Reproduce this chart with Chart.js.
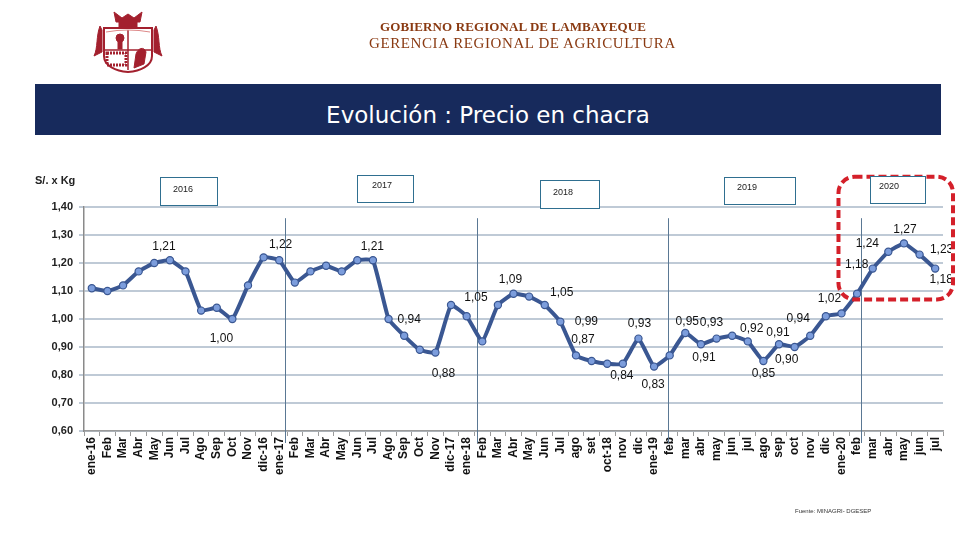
<!DOCTYPE html>
<html><head><meta charset="utf-8">
<script src="https://cdn.jsdelivr.net/npm/chart.js@4.4.1/dist/chart.umd.min.js"></script>
<style>
html,body{margin:0;padding:0;background:#fff;width:960px;height:540px;overflow:hidden;position:relative;font-family:"Liberation Sans",Arial,sans-serif}
#c{position:absolute;left:0;top:0}
.h1{position:absolute;left:380px;top:19px;font:bold 13px "Liberation Serif",serif;color:#8a3a12;letter-spacing:0.1px;white-space:nowrap}
.h2{position:absolute;left:369px;top:35px;font:15px "Liberation Serif",serif;color:#8a3a12;letter-spacing:0.6px;white-space:nowrap}
.bar{position:absolute;left:35px;top:84px;width:906px;height:51px;background:#172a5c;color:#fff;font:23px "DejaVu Sans",Verdana,sans-serif;text-align:center;line-height:62px}
.unit{position:absolute;left:35px;top:174px;font:bold 11px "Liberation Sans",Arial;color:#222}
.src{position:absolute;left:795px;top:508px;font:6px "Liberation Sans",Arial;color:#333}
.yb{position:absolute;border:1px solid #2f6f90;background:#fff;font:9px "Liberation Sans",Arial;color:#222;box-sizing:border-box;padding:6px 0 0 12px}
</style></head><body>
<canvas id="c" width="960" height="540"></canvas>
<svg style="position:absolute;left:92px;top:8px" width="72" height="66" viewBox="0 0 72 66">
 <g fill="#a3202e" stroke="#a3202e">
  <path d="M22 4 L30 10 L36 6 L42 10 L50 4 L48 14 L24 14 Z"/>
  <rect x="27" y="12" width="18" height="8"/>
  <path d="M8 18 C4 28 6 40 2 48 L10 44 L10 22 Z"/>
  <path d="M64 18 C68 28 66 40 70 48 L62 44 L62 22 Z"/>
  <path d="M12 20 L60 20 L60 48 C60 58 48 63 36 64 C24 63 12 58 12 48 Z" fill="none" stroke-width="2"/>
  <line x1="36" y1="22" x2="36" y2="62" stroke-width="1.5"/>
  <line x1="13" y1="42" x2="59" y2="42" stroke-width="1.5"/>
  <circle cx="28" cy="30" r="4"/>
  <rect x="26" y="33" width="4" height="8"/>
  <path d="M42 60 L44 46 C46 40 52 38 54 44 L52 56 Z"/>
  <rect x="15" y="45" width="19" height="12" fill="none" stroke-dasharray="2 1" stroke-width="3"/>
 </g>
 <path d="M14 24 Q36 20 58 24" fill="none" stroke="#d88" stroke-width="1"/>
</svg>
<div class="h1">GOBIERNO REGIONAL DE LAMBAYEQUE</div>
<div class="h2">GERENCIA REGIONAL DE AGRICULTURA</div>
<div class="bar">Evolución : Precio en chacra</div>
<div class="unit">S/. x Kg</div>
<div class="yb" style="left:160px;top:177px;width:58px;height:29px">2016</div>
<div class="yb" style="left:357px;top:175px;width:57px;height:28px;padding-top:4px;padding-left:14px">2017</div>
<div class="yb" style="left:540px;top:180px;width:60px;height:29px;padding-left:12px">2018</div>
<div class="yb" style="left:724px;top:177px;width:72px;height:28px;padding-top:4px;padding-left:12px">2019</div>
<div class="yb" style="left:870px;top:176px;width:56px;height:28px;padding-top:4px;padding-left:8px">2020</div>
<div class="src">Fuente: MINAGRI- DGESEP</div>
<script>
const categories = ["ene-16","Feb","Mar","Abr","May","Jun","Jul","Ago","Sep","Oct","Nov","dic-16",
 "ene-17","Feb","Mar","Abr","May","Jun","Jul","Ago","Sep","Oct","Nov","dic-17",
 "ene-18","Feb","Mar","Abr","May","Jun","Jul","ago","set","oct-18","nov","dic",
 "ene-19","feb","mar","abr","may","jun","jul","ago","sep","oct","nov","dic",
 "ene-20","feb","mar","abr","may","jun","jul"];
const prices2016 = [1.11,1.10,1.12,1.17,1.20,1.21,1.17,1.03,1.04,1.00,1.12,1.22];
const prices2017 = [1.21,1.13,1.17,1.19,1.17,1.21,1.21,1.00,0.94,0.89,0.88,1.05];
const prices2018 = [1.01,0.92,1.05,1.09,1.08,1.05,0.99,0.87,0.85,0.84,0.84,0.93];
const prices2019 = [0.83,0.87,0.95,0.91,0.93,0.94,0.92,0.85,0.91,0.90,0.94,1.01];
const prices2020 = [1.02,1.09,1.18,1.24,1.27,1.23,1.18];
const prices = [...prices2016,...prices2017,...prices2018,...prices2019,...prices2020];
const yTicks = [0.60,0.70,0.80,0.90,1.00,1.10,1.20,1.30,1.40];
// labelled points: [index, dx, dy]
const labelPlacement = [[5,-6,-14],[9,-11,20],[11,17,-13],[17,15,-14],[20,5,-16],[22,8,21],[23,25,-7],
 [27,-3,-14],[29,17,-12],[30,26,0],[31,7,-16],[34,-1,12],[35,1,-15],[36,-1,18],[38,2,-11],[39,3,13],
 [40,-5,-16],[42,4,-13],[43,0,13],[44,-1,-12],[45,-8,13],[46,-12,-17],[48,-12,-15],[50,-16,-4],
 [51,-21,-8],[52,1,-14],[53,22,-5],[54,6,11]];
const yearDividers = [12.35,24.68,36.9,49.22];
const fmt = v => v.toFixed(2).replace('.',',');

const extras = {
 id:'extras',
 afterDatasetsDraw(chart){
  const ctx = chart.ctx;
  const meta = chart.getDatasetMeta(0);
  ctx.save();
  ctx.beginPath(); ctx.rect(0,0,951,540); ctx.clip();
  ctx.fillStyle = '#111';
  ctx.font = '12px "Liberation Sans",Arial';
  ctx.textAlign='center'; ctx.textBaseline='middle';
  labelPlacement.forEach(([i,dx,dy])=>{
   const p = meta.data[i];
   ctx.fillText(fmt(prices[i]), p.x+dx, p.y+dy);
  });
  ctx.restore();
 },
 beforeDatasetsDraw(chart){
  const ctx = chart.ctx, xs = chart.scales.x, ys = chart.scales.y;
  ctx.save();
  ctx.strokeStyle='#5a7894'; ctx.lineWidth=1;
  yearDividers.forEach(v=>{
   const x = Math.round(xs.getPixelForValue(0) + (xs.getPixelForValue(1)-xs.getPixelForValue(0))*v)+0.5;
   ctx.beginPath(); ctx.moveTo(x, ys.getPixelForValue(1.36)); ctx.lineTo(x, ys.bottom+12); ctx.stroke();
  });
  ctx.restore();
 },
 afterDraw(chart){
  const ctx = chart.ctx, xs = chart.scales.x, ys = chart.scales.y;
  // dashed highlight around 2020
  const x0 = xs.getPixelForValue(48) - 3, x1 = xs.right + 10;
  const y0 = ys.getPixelForValue(1.508), y1 = ys.getPixelForValue(1.07);
  ctx.save();
  ctx.strokeStyle='#d4202a'; ctx.lineWidth=4; ctx.setLineDash([8,4]);
  ctx.beginPath();
  ctx.roundRect(x0,y0,x1-x0,y1-y0,16);
  ctx.stroke();
  ctx.restore();
 }
};

new Chart(document.getElementById('c'),{
 type:'line',
 data:{labels:categories,datasets:[{data:prices,borderColor:'#3a5792',borderWidth:4,tension:0.12,
  pointRadius:3.6,pointBackgroundColor:'#7c9ddc',pointBorderColor:'#3a5792',pointBorderWidth:1.2}]},
 options:{
  responsive:false,animation:false,
  layout:{padding:{left:34,right:17,top:207,bottom:49}},
  plugins:{legend:{display:false},tooltip:{enabled:false}},
  scales:{
   x:{offset:true,
    afterFit:s=>{s.height=60;},
    grid:{offset:true,drawOnChartArea:false,tickLength:5,color:'#9a9a9a',lineWidth:1},
    border:{color:'#9a9a9a',width:1.5},
    ticks:{autoSkip:false,maxRotation:90,minRotation:90,padding:1,color:'#111',
     font:{family:'"Liberation Sans",Arial',size:12,weight:'bold'}}},
   y:{min:0.6,max:1.4,
    afterFit:s=>{s.width=50;},
    afterBuildTicks:s=>{s.ticks=yTicks.map(v=>({value:v}));},
    grid:{color:'#bfcad6',lineWidth:2,tickLength:5},
    border:{color:'#8a8a8a',width:1.5},
    ticks:{padding:6,color:'#222',callback:v=>fmt(v),
     font:{family:'"Liberation Sans",Arial',size:11,weight:'bold'}}}
  }
 },
 plugins:[extras]
});
</script>
</body></html>
